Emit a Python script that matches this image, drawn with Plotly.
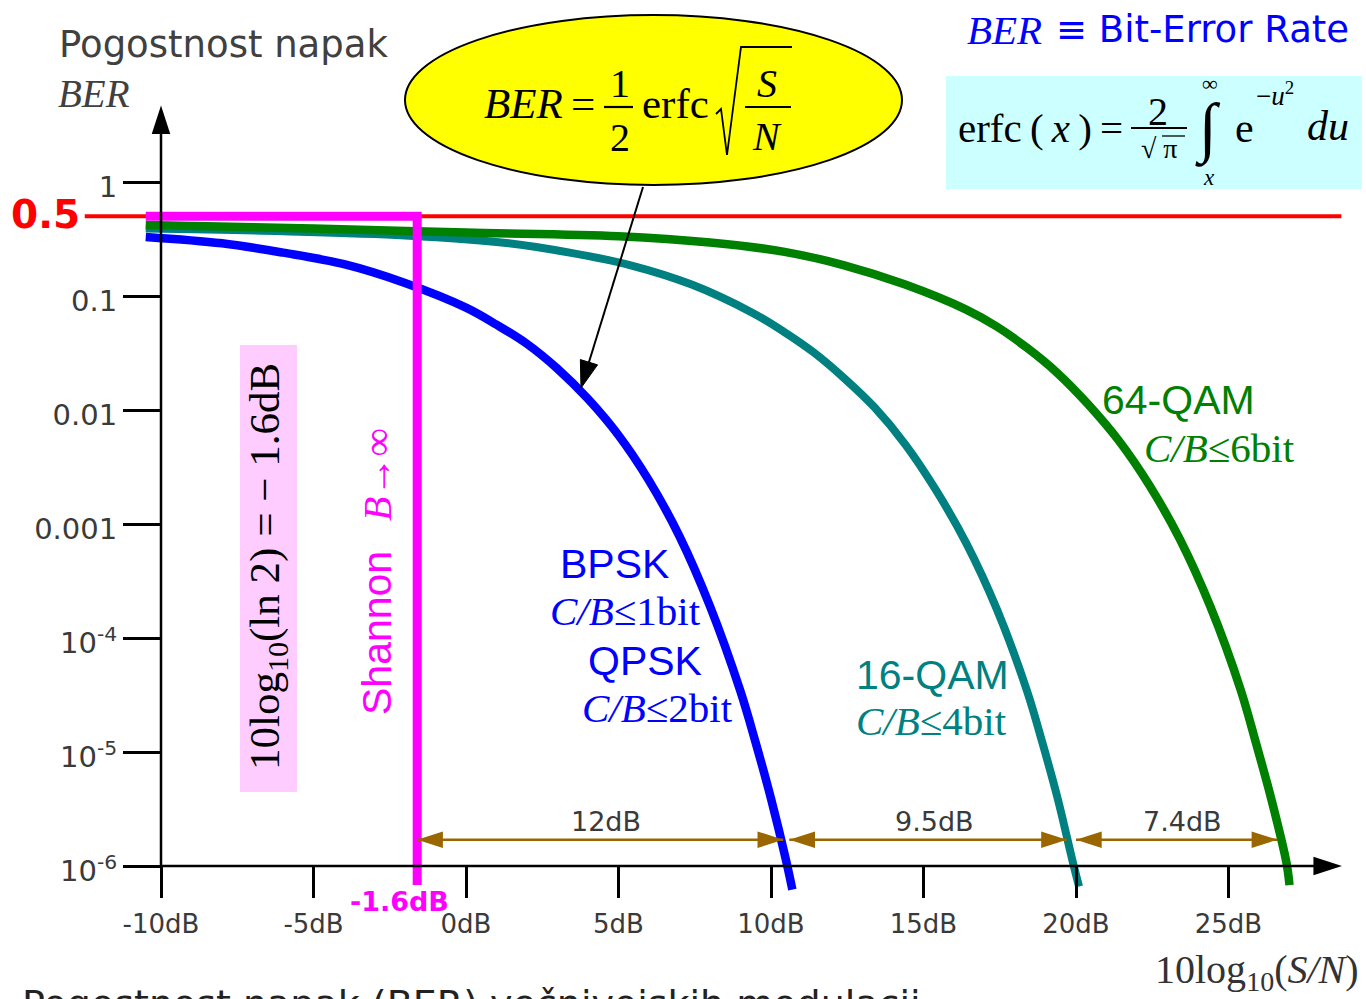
import plotly.graph_objects as go

# ---------------- data ----------------
# BER curves read along 10log10(S/N) in dB
bpsk_db = [-10.5, -8, -6, -4, -2, 0, 1, 2, 3, 4, 5, 6, 7, 8, 9, 9.5, 10, 10.5, 10.7]
bpsk_ber = [0.33, 0.29, 0.24, 0.19, 0.13, 0.079, 0.056, 0.038, 0.023, 0.0125, 0.006,
            0.0024, 7.8e-4, 1.9e-4, 3.4e-5, 1.2e-5, 3.9e-6, 1.1e-6, 6.2e-7]

qam16_db = [-10.5, -6, -2, 1.4, 3.4, 5.4, 7.4, 9.4, 10.4, 11.4, 12.4, 13.4, 14.4, 15.4,
            16.4, 17.4, 18.4, 18.9, 19.4, 19.9, 20.1]
qam16_ber = [0.39, 0.37, 0.34, 0.29, 0.24, 0.186, 0.126, 0.071, 0.049, 0.032, 0.019,
             0.0105, 0.005, 0.002, 6.8e-4, 1.8e-4, 3.4e-5, 1.2e-5, 3.9e-6, 1.07e-6, 6.6e-7]

qam64_db = [-10.5, -5, 0, 5, 8, 10.4, 12.4, 14.4, 16.4, 17.4, 18.4, 19.4, 20.4, 21.4,
            22.4, 23.4, 24.4, 25.4, 25.9, 26.4, 26.9, 27.0]
qam64_ber = [0.42, 0.39, 0.36, 0.335, 0.295, 0.245, 0.186, 0.126, 0.076, 0.054, 0.035,
             0.021, 0.0112, 0.0054, 0.0022, 7.4e-4, 1.9e-4, 3.5e-5, 1.2e-5, 3.9e-6,
             1.07e-6, 6.8e-7]

half_level = 0.5
half_line_db = [-12.5, 28.7]
shannon_db = -1.6
shannon_start_db = -10.5
shannon_end_ber = 6.8e-7

# dB gaps marked between the curves
gap_from_db = [-1.6, 10.6, 20.0]
gap_to_db = [10.4, 19.7, 26.6]
gap_labels = ["12dB", "9.5dB", "7.4dB"]
gap_ber = 1.7e-6

x_tick_vals = [-10, -5, 0, 5, 10, 15, 20, 25]
x_tick_text = ["-10dB", "-5dB", "0dB", "5dB", "10dB", "15dB", "20dB", "25dB"]
y_tick_vals = [1, 0.1, 0.01, 0.001, 1e-4, 1e-5, 1e-6]
y_tick_text = ["1", "0.1", "0.01", "0.001", "10<sup>-4</sup>", "10<sup>-5</sup>",
               "10<sup>-6</sup>"]

axis_origin_db = -10
axis_origin_ber = 1e-6
x_axis_end_db = 28.72
y_axis_end_ber = 4.7

# ---------------- geometry ----------------
W, H = 1366, 999
X0_PX, DB_PX = 466.0, 30.5      # pixel of 0 dB, pixels per dB
Y1_PX, DEC_PX = 182.0, 114.0    # pixel of BER = 1, pixels per decade
x_range = [(0 - X0_PX) / DB_PX, (W - X0_PX) / DB_PX]
y_range = [(Y1_PX - H) / DEC_PX, Y1_PX / DEC_PX]

BLUE, TEAL, GREEN = "#0000FF", "#008080", "#008000"
MAGENTA, RED, BROWN = "#FF00FF", "#FF0000", "#996600"
INK = "#3a3a3a"
SANS, SANS2, SERIF = "DejaVu Sans", "Liberation Sans", "Liberation Serif"


def paper(px, py):
    return px / W, 1 - py / H


fig = go.Figure()

# 0.5 reference level
fig.add_trace(go.Scatter(x=half_line_db, y=[half_level, half_level], mode="lines",
                         line=dict(color=RED, width=4), hoverinfo="skip"))

# BER curves
for xs, ys, col, w in [(bpsk_db, bpsk_ber, BLUE, 8.5), (qam16_db, qam16_ber, TEAL, 8),
                       (qam64_db, qam64_ber, GREEN, 8.5)]:
    fig.add_trace(go.Scatter(x=xs, y=ys, mode="lines",
                             line=dict(color=col, width=w, shape="spline", smoothing=1.0),
                             hoverinfo="skip"))

# Shannon limit
fig.add_trace(go.Scatter(x=[shannon_start_db, shannon_db, shannon_db],
                         y=[half_level, half_level, shannon_end_ber], mode="lines",
                         line=dict(color=MAGENTA, width=9), hoverinfo="skip"))

# axis lines with arrow heads
fig.add_trace(go.Scatter(x=[axis_origin_db, x_axis_end_db - 0.5], y=[axis_origin_ber] * 2,
                         mode="lines", line=dict(color="black", width=2.5), hoverinfo="skip"))
fig.add_trace(go.Scatter(x=[axis_origin_db] * 2, y=[axis_origin_ber, y_axis_end_ber * 0.75],
                         mode="lines", line=dict(color="black", width=2.5), hoverinfo="skip"))
fig.add_trace(go.Scatter(x=[x_axis_end_db, axis_origin_db], y=[axis_origin_ber, y_axis_end_ber],
                         mode="markers", hoverinfo="skip",
                         marker=dict(symbol="arrow", angle=[90, 0], size=30, color="black",
                                     line=dict(width=0))))

# dB gap arrows
for a, b in zip(gap_from_db, gap_to_db):
    fig.add_trace(go.Scatter(x=[a, b], y=[gap_ber, gap_ber], mode="lines+markers",
                             line=dict(color=BROWN, width=2.5), hoverinfo="skip",
                             marker=dict(symbol="arrow", angle=[-90, 90], size=27,
                                         color=BROWN, line=dict(width=0))))

shapes = []
ann = []


def label(text, x, y, size, color="black", family=SANS, angle=0, xanchor="center",
          yanchor="middle"):
    px_, py_ = paper(x, y)
    ann.append(dict(text=text, x=px_, y=py_, xref="paper", yref="paper", showarrow=False,
                    font=dict(size=size, color=color, family=family), textangle=angle,
                    xanchor=xanchor, yanchor=yanchor))


def pline(x0, y0, x1, y1, color="black", width=2):
    a, b = paper(x0, y0)
    c, d = paper(x1, y1)
    shapes.append(dict(type="line", xref="paper", yref="paper", x0=a, y0=b, x1=c, y1=d,
                       line=dict(color=color, width=width), layer="above"))


def prect(x0, y0, x1, y1, fill, layer="below"):
    a, b = paper(x0, y0)
    c, d = paper(x1, y1)
    shapes.append(dict(type="rect", xref="paper", yref="paper", x0=a, y0=d, x1=c, y1=b,
                       fillcolor=fill, line=dict(width=0), layer=layer))


def ppath(points, fill=None, color="black", width=1.5, close=False):
    pts = [paper(x, y) for x, y in points]
    d = "M" + " L".join(f"{x:.5f},{y:.5f}" for x, y in pts) + (" Z" if close else "")
    shapes.append(dict(type="path", xref="paper", yref="paper", path=d,
                       fillcolor=fill if fill else "rgba(0,0,0,0)",
                       line=dict(color=color, width=width), layer="above"))


# gap labels
for a, b, t in zip(gap_from_db, gap_to_db, gap_labels):
    ann.append(dict(text=t, x=(a + b) / 2 + 0.2, y=-5.772, xref="x", yref="y",
                    showarrow=False, yshift=19, font=dict(size=27, color=INK, family=SANS)))

# y-axis title
label("Pogostnost napak", 57, 45, 37, "#404040", SANS, xanchor="left")
label("<i>BER</i>", 56, 94, 39, "#404040", SERIF, xanchor="left")
label("<b>0.5</b>", 9, 214, 39, RED, SANS, xanchor="left")

# formula in the ellipse
a, b = paper(405, 185)
c, d = paper(902, 15)
shapes.append(dict(type="circle", xref="paper", yref="paper", x0=a, y0=b, x1=c, y1=d,
                   fillcolor="#FFFF00", line=dict(color="black", width=2), layer="above"))
label("<i>BER</i>", 482, 104, 43, "black", SERIF, xanchor="left")
label("=", 583, 103, 43, "black", SERIF)
label("1", 620, 84, 40, "black", SERIF)
pline(604, 107, 633, 107, width=2.2)
label("2", 620, 137, 40, "black", SERIF)
label("erfc", 675, 104, 43, "black", SERIF)
ppath([(716, 114), (721, 109), (727, 155), (741, 47), (792, 47)], width=1.8)
label("<i>S</i>", 767, 83, 40, "black", SERIF)
pline(745, 107, 791, 107, width=2.2)
label("<i>N</i>", 767, 136, 40, "black", SERIF)

# pointer from the formula to the BPSK curve
tip, tail = (581, 388), (643, 187)
dx, dy = tip[0] - tail[0], tip[1] - tail[1]
ln = (dx * dx + dy * dy) ** 0.5
ux, uy = dx / ln, dy / ln
bx, by = tip[0] - 27 * ux, tip[1] - 27 * uy
pline(tail[0], tail[1], bx + 3 * ux, by + 3 * uy, width=2)
ppath([tip, (bx + 9 * uy, by - 9 * ux), (bx - 9 * uy, by + 9 * ux)], fill="black",
      width=1, close=True)

# BER definition, top right
label("<i>BER</i>", 965, 30, 41, BLUE, SERIF, xanchor="left")
label("\u2261 Bit-Error Rate", 1054, 30, 37, BLUE, SANS, xanchor="left")

# erfc definition box
prect(946, 76, 1362, 189, "#CCFFFF")
label("erfc\u2009(\u2009<i>x</i>\u2009)\u2009=", 956, 128, 41, "black", SERIF, xanchor="left")
label("2", 1158, 111, 40, "black", SERIF)
pline(1131, 128, 1187, 128, width=2.2)
label("\u221a \u03c0", 1159, 149, 28, "black", SERIF)
pline(1162, 136, 1185, 136, width=1.3)
label("\u222b", 1208, 128, 66, "black", SERIF)
label("\u221e", 1210, 84, 22, "black", SERIF)
label("<i>x</i>", 1209, 177, 23, "black", SERIF)
label("e", 1244, 128, 42, "black", SERIF)
label("\u2212<i>u</i><sup>2</sup>", 1275, 94, 27, "black", SERIF)
label("<i>du</i>", 1328, 126, 42, "black", SERIF)

# Shannon limit annotations
prect(240, 345, 297, 792, "#FFCCFF")
label("10log<sub>10</sub>(ln 2) = \u2212 1.6dB", 268, 567, 43, "black", SERIF, angle=-90)
label("Shannon", 377, 633, 41, MAGENTA, SANS2, angle=-90)
label("<i>B</i>\u2192\u221e", 377, 475, 40, MAGENTA, SERIF, angle=-90)
label("<b>-1.6dB</b>", 399, 901, 27, MAGENTA, SANS)

# curve labels
label("BPSK", 614, 564, 41, BLUE, SANS2)
label("<i>C/B</i>\u22641bit", 625, 611, 41, BLUE, SERIF)
label("QPSK", 645, 661, 41, BLUE, SANS2)
label("<i>C/B</i>\u22642bit", 657, 708, 41, BLUE, SERIF)
label("16-QAM", 932, 675, 41, TEAL, SANS2)
label("<i>C/B</i>\u22644bit", 931, 721, 41, TEAL, SERIF)
label("64-QAM", 1178, 400, 41, GREEN, SANS2)
label("<i>C/B</i>\u22646bit", 1219, 448, 41, GREEN, SERIF)

# x-axis title and caption
label("10log<sub>10</sub>(<i>S/N</i>)", 1361, 972, 40, "#333333", SERIF, xanchor="right")
label("Pogostnost napak (BER) večnivojskih modulacij", 20, 980, 38, "#222222", SANS,
      xanchor="left", yanchor="top")

fig.update_layout(
    width=W, height=H, margin=dict(l=0, r=0, t=0, b=0, pad=0),
    paper_bgcolor="white", plot_bgcolor="white", showlegend=False,
    xaxis=dict(range=x_range, domain=[0, 1], anchor="free", position=(H - 866) / H,
               showgrid=False, zeroline=False, showline=False, ticks="outside",
               ticklen=31, tickwidth=2.5, tickcolor="black", tickvals=x_tick_vals,
               ticktext=x_tick_text, tickfont=dict(family=SANS, size=26, color=INK),
               ticklabelstandoff=4),
    yaxis=dict(type="log", range=y_range, domain=[0, 1], anchor="free",
               position=161 / W, showgrid=False, zeroline=False, showline=False,
               ticks="outside", ticklen=38, tickwidth=2.5, tickcolor="black",
               tickvals=y_tick_vals, ticktext=y_tick_text,
               tickfont=dict(family=SANS, size=29, color=INK), ticklabelshift=5),
    shapes=shapes, annotations=ann,
)

fig.write_html("out.html")
